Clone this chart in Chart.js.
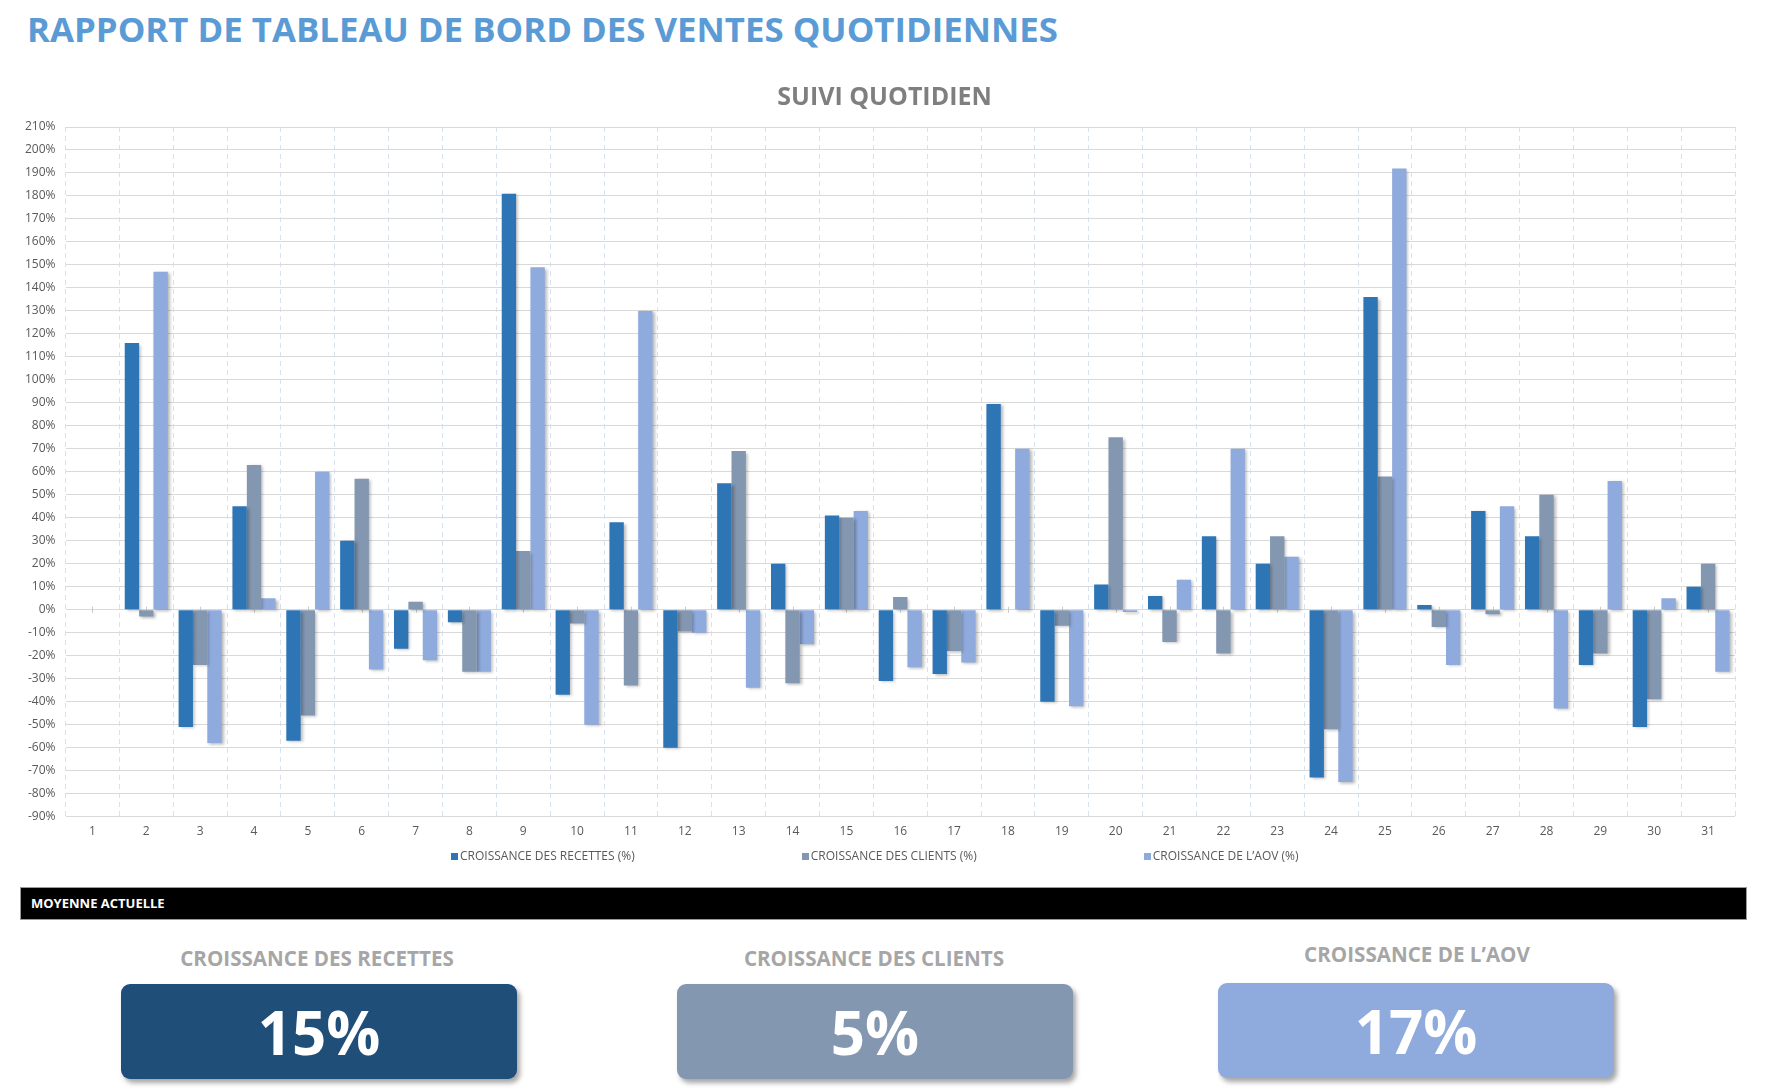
<!DOCTYPE html>
<html>
<head>
<meta charset="utf-8">
<script src="https://cdn.jsdelivr.net/npm/chart.js@4.4.1/dist/chart.umd.min.js"></script>
<style>
  html, body { margin: 0; padding: 0; background: #fff; }
  body { width: 1773px; height: 1092px; position: relative; overflow: hidden; font-family: "Open Sans", "DejaVu Sans", sans-serif; }
  #title { position: absolute; left: 27px; top: 11px; font-size: 34.8px; line-height: 36px; font-weight: 700; color: #5B9BD5; white-space: nowrap; }
  #chartWrap { position: absolute; left: 0; top: 60px; width: 1773px; height: 790px; }
  #legend { position: absolute; left: 451px; top: 849px; display: flex; gap: 167px; font-size: 12px; line-height: 14px; color: #595959; white-space: nowrap; }
  #legend .item { display: flex; align-items: center; }
  #legend .sw { width: 7px; height: 7px; margin-right: 2px; display: inline-block; }
  #band { position: absolute; left: 20px; top: 887px; width: 1725px; height: 31px; background: #000; border: 1px solid #9a9a9a; }
  #band span { position: absolute; left: 10px; top: 8px; color: #fff; font-size: 13px; line-height: 15px; font-weight: 700; }
  .cardTitle { position: absolute; width: 500px; text-align: center; font-size: 20.6px; line-height: 20px; font-weight: 700; color: #a6a6a6; white-space: nowrap; }
  .card { position: absolute; width: 396px; height: 95px; border-radius: 9px; box-shadow: 3px 4px 5px rgba(0,0,0,0.35); display: flex; align-items: center; justify-content: center; color: #fff; font-size: 60px; line-height: 60px; font-weight: 700; }
</style>
</head>
<body>
<div id="title">RAPPORT DE TABLEAU DE BORD DES VENTES QUOTIDIENNES</div>
<div id="chartWrap"><canvas id="c" width="1773" height="790"></canvas></div>
<div id="legend"></div>
<div id="band"><span>MOYENNE ACTUELLE</span></div>
<div id="cards"></div>
<script>
// ---- Data ----
const days = ["1","2","3","4","5","6","7","8","9","10","11","12","13","14","15","16","17","18","19","20","21","22","23","24","25","26","27","28","29","30","31"];
const seriesNames = ["CROISSANCE DES RECETTES (%)", "CROISSANCE DES CLIENTS (%)", "CROISSANCE DE L\u2019AOV (%)"];
const recettes = [0,116,-51,45,-57,30,-17,-5.5,181,-37,38,-60,55,20,41,-31,-28,89.5,-40,11,6,32,20,-73,136,2,43,32,-24,-51,10];
const clients  = [0,-3,-24,63,-46,57,3.5,-27,25.5,-6,-33,-9.5,69,-32,40,5.5,-18,0,-7,75,-14,-19,32,-52,58,-7.5,-2,50,-19,-39,20];
const aov      = [0,147,-58,5,60,-26,-22,-27,149,-50,130,-10,-34,-15,43,-25,-23,70,-42,-1,13,70,23,-75,192,-24,45,-43,56,5,-27];
const yMin = -90, yMax = 210, yStep = 10;
const chartTitle = "SUIVI QUOTIDIEN";
const cardTitles = ["CROISSANCE DES RECETTES", "CROISSANCE DES CLIENTS", "CROISSANCE DE L\u2019AOV"];
const cardValues = ["15%", "5%", "17%"];

// ---- Styles ----
const colors = ["#2E75B6", "#8497B0", "#8FAADC"];
const cardColors = ["#1F4E79", "#8497B0", "#8FAADC"];
const cardLayout = [
  {left: 121, top: 984, titleCx: 317, titleTop: 948},
  {left: 677, top: 984, titleCx: 874, titleTop: 948},
  {left: 1218, top: 983, titleCx: 1417, titleTop: 944}
];

const shadowPlugin = {
  id: 'barShadow',
  beforeDatasetsDraw(chart) {
    const ctx = chart.ctx;
    ctx.save();
    ctx.shadowColor = 'rgba(0,0,0,0.28)';
    ctx.shadowBlur = 3;
    ctx.shadowOffsetX = 2;
    ctx.shadowOffsetY = 1.5;
  },
  afterDatasetsDraw(chart) { chart.ctx.restore(); }
};

// small tick marks on the zero line at each category centre
const zeroTicks = {
  id: 'zeroTicks',
  beforeDatasetsDraw(chart) {
    const {ctx, scales: {x, y}} = chart;
    const y0 = y.getPixelForValue(0);
    ctx.save();
    ctx.strokeStyle = '#c8c8c8';
    ctx.lineWidth = 1;
    days.forEach((d, i) => {
      const px = Math.round(x.getPixelForValue(i)) + 0.5;
      ctx.beginPath();
      ctx.moveTo(px, y0 - 3);
      ctx.lineTo(px, y0 + 3);
      ctx.stroke();
    });
    ctx.restore();
  }
};

// centre the chart title like the spreadsheet chart (slightly right of canvas centre)
const titleShift = {
  id: 'titleShift',
  afterLayout(chart) {
    if (chart.titleBlock) { chart.titleBlock.left += 34; }
  }
};

new Chart(document.getElementById('c'), {
  type: 'bar',
  data: {
    labels: days,
    datasets: [recettes, clients, aov].map((d, i) => ({
      label: seriesNames[i],
      data: d,
      backgroundColor: colors[i],
      borderWidth: 0,
      categoryPercentage: 0.8,
      barPercentage: 1.0
    }))
  },
  options: {
    responsive: false,
    animation: false,
    devicePixelRatio: 1,
    layout: { padding: { left: 0, right: 38, top: 0, bottom: 3 } },
    plugins: {
      legend: { display: false },
      tooltip: { enabled: false },
      title: {
        display: true,
        text: chartTitle,
        color: '#7f7f7f',
        font: { family: 'Open Sans', size: 25, weight: '700', lineHeight: 1.2 },
        padding: { top: 23, bottom: 14 }
      }
    },
    scales: {
      x: {
        grid: { display: true, offset: true, drawTicks: false, color: '#d6e2f2', lineWidth: 1 },
        border: { display: false, dash: [5, 4] },
        ticks: { color: '#595959', font: { family: 'Open Sans', size: 12 }, padding: 8, maxRotation: 0, autoSkip: false }
      },
      y: {
        min: yMin, max: yMax,
        afterFit(scale) { scale.width = 65.5; },
        grid: { color: '#d9d9d9', lineWidth: 1, drawTicks: false },
        border: { display: false },
        ticks: {
          stepSize: yStep,
          color: '#595959',
          font: { family: 'Open Sans', size: 12 },
          padding: 10,
          callback: v => v + '%'
        }
      }
    }
  },
  plugins: [titleShift, zeroTicks, shadowPlugin]
});

// ---- Legend (HTML) ----
const legend = document.getElementById('legend');
seriesNames.forEach((n, i) => {
  const it = document.createElement('div');
  it.className = 'item';
  it.innerHTML = '<span class="sw" style="background:' + colors[i] + '"></span><span>' + n + '</span>';
  legend.appendChild(it);
});

// ---- Cards ----
const cards = document.getElementById('cards');
cardTitles.forEach((t, i) => {
  const L = cardLayout[i];
  const h = document.createElement('div');
  h.className = 'cardTitle';
  h.style.left = (L.titleCx - 250) + 'px';
  h.style.top = L.titleTop + 'px';
  h.textContent = t;
  cards.appendChild(h);
  const b = document.createElement('div');
  b.className = 'card';
  b.style.left = L.left + 'px';
  b.style.top = L.top + 'px';
  b.style.background = cardColors[i];
  b.textContent = cardValues[i];
  cards.appendChild(b);
});
</script>
</body>
</html>
